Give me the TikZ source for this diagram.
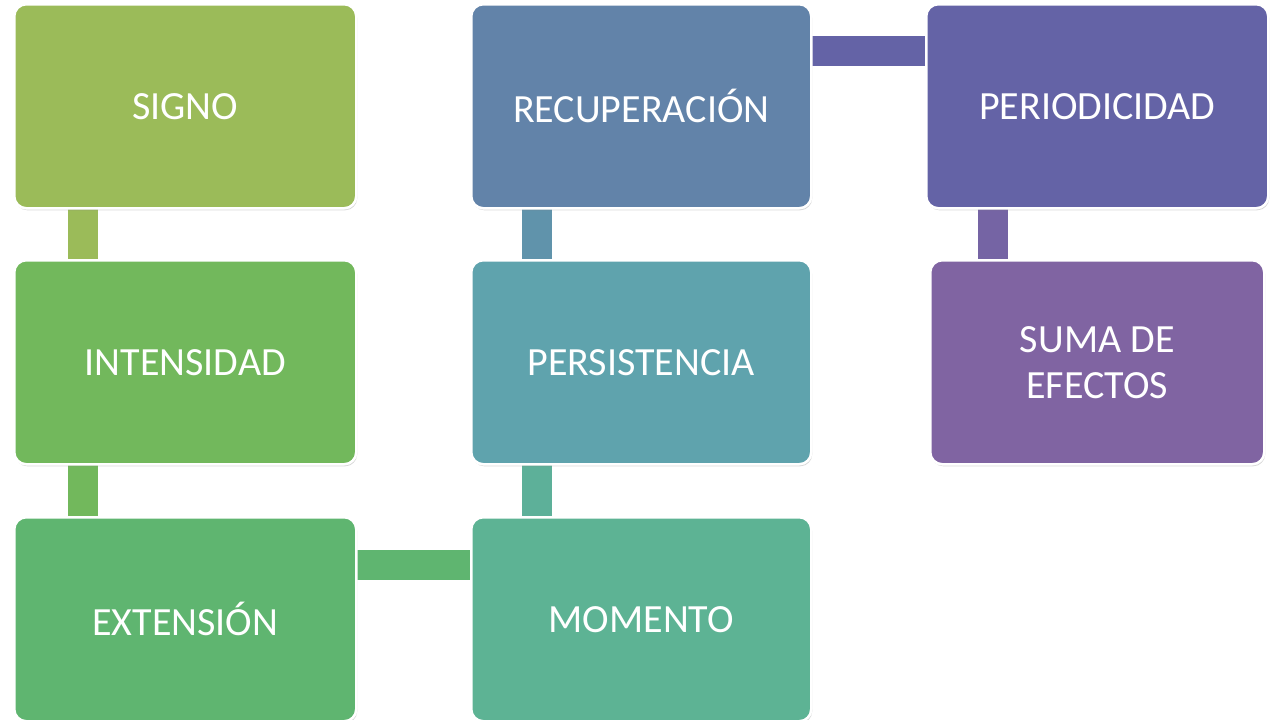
\documentclass[tikz,border=0pt]{standalone}
\usepackage{fontspec}
\setmainfont{Carlito}
\usetikzlibrary{shadows}
\definecolor{cA}{HTML}{9BBB59}
\definecolor{cB}{HTML}{72B85C}
\definecolor{cC}{HTML}{5FB570}
\definecolor{cD}{HTML}{5DB394}
\definecolor{cE}{HTML}{5FA3AD}
\definecolor{cF}{HTML}{6283A9}
\definecolor{cG}{HTML}{6463A6}
\definecolor{cH}{HTML}{8064A2}
\tikzset{
  box/.style={draw=white, line width=2.5pt, rounded corners=12pt, minimum width=342pt, minimum height=204pt,
    text=white, font=\fontsize{40}{46}\selectfont, align=center, anchor=north west, inner sep=0pt,
    drop shadow={shadow xshift=1pt, shadow yshift=-2pt, opacity=0.3}},
  bar/.style={line width=30pt}
}
\begin{document}
\begin{tikzpicture}[x=1pt,y=-1pt]
\useasboundingbox (0,0) rectangle (1280,720);
% connectors first
\coordinate (a1) at (82.5,205); \coordinate (a2) at (82.5,260);
\coordinate (b1) at (82.5,460); \coordinate (b2) at (82.5,517);
\coordinate (c1) at (354,565); \coordinate (c2) at (472,565);
\coordinate (d1) at (537,460); \coordinate (d2) at (537,517);
\coordinate (e1) at (537,205); \coordinate (e2) at (537,260);
\coordinate (f1) at (809,50.5); \coordinate (f2) at (926,50.5);
\coordinate (g1) at (992.5,205); \coordinate (g2) at (992.5,260);
\draw[bar,cA] (a1) -- (a2);
\draw[bar,cB] (b1) -- (b2);
\draw[bar,cC] (c1) -- (c2);
\draw[bar,color=cD!80!cE] (d1) -- (d2);
\draw[bar,color=cE!50!cF] (e1) -- (e2);
\draw[bar,cG] (f1) -- (f2);
\draw[bar,color=cG!40!cH] (g1) -- (g2);
% boxes
\node[box,fill=cA] (signo) at (13,3) {SIGNO};
\node[box,fill=cB] (int) at (13,259) {INTENSIDAD};
\node[box,fill=cC] (ext) at (13,516) {EXTENSIÓN};
\node[box,fill=cD,minimum width=340pt] (mom) at (470,516) {MOMENTO};
\node[box,fill=cE,minimum width=340pt] (per) at (470,259) {PERSISTENCIA};
\node[box,fill=cF,minimum width=340pt] (rec) at (470,3) {RECUPERACIÓN};
\node[box,fill=cG] (peri) at (925,3) {PERIODICIDAD};
\node[box,fill=cH,minimum width=334pt] (suma) at (929,259) {SUMA DE\\EFECTOS};
\end{tikzpicture}
\end{document}
